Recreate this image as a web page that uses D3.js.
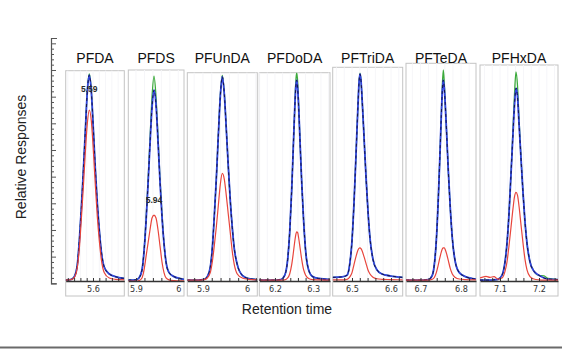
<!DOCTYPE html>
<html><head><meta charset="utf-8">
<script src="https://cdn.jsdelivr.net/npm/d3@7"></script>
<style>
html,body{margin:0;padding:0;background:#fff;}
svg{display:block;font-family:"Liberation Sans",Arial,sans-serif;}
</style></head>
<body><svg id="c" width="562" height="355"></svg>
<script>
// ---------- DATA ----------
const panelNames = ["PFDA","PFDS","PFUnDA","PFDoDA","PFTriDA","PFTeDA","PFHxDA"];
const xDomains = [[5.5133,5.6994],[5.8818,6.0135],[5.8644,6.0235],[6.1591,6.3437],[6.4505,6.6300],[6.6642,6.8370],[7.0487,7.2487]];
const tickValues = [[5.6],[5.9,6.0],[5.9,6.0],[6.2,6.3],[6.5,6.6],[6.7,6.8],[7.1,7.2]];
const tickLabels = [["5.6"],["5.9","6"],["5.9","6"],["6.2","6.3"],["6.5","6.6"],["6.7","6.8"],["7.1","7.2"]];
const peakLabels = [{p:0,text:"5.59",t:5.5883,v:71.7},{p:1,text:"5.94",t:5.9426,v:30.1}];

const times = [
 [5.5133,5.5312,5.5407,5.5502,5.5566,5.5629,5.5693,5.5756,5.5820,5.5883,5.5946,5.6010,5.6073,5.6137,5.6200,5.6264,5.6359,5.6518,5.6708,5.6994],
 [5.8818,5.9000,5.9071,5.9142,5.9190,5.9237,5.9284,5.9331,5.9379,5.9426,5.9473,5.9521,5.9568,5.9615,5.9662,5.9710,5.9781,5.9899,6.0041,6.0135],
 [5.8644,5.8871,5.9030,5.9098,5.9166,5.9212,5.9257,5.9303,5.9348,5.9394,5.9439,5.9485,5.9530,5.9575,5.9621,5.9666,5.9712,5.9780,5.9894,6.0030,6.0235],
 [6.1591,6.1914,6.2149,6.2254,6.2332,6.2384,6.2437,6.2476,6.2515,6.2541,6.2567,6.2593,6.2619,6.2658,6.2698,6.2750,6.2802,6.2880,6.2985,6.3141,6.3437],
 [6.4505,6.4744,6.4872,6.4949,6.5000,6.5051,6.5102,6.5154,6.5179,6.5205,6.5231,6.5256,6.5308,6.5359,6.5410,6.5461,6.5538,6.5641,6.5769,6.5974,6.6300],
 [6.6642,6.6946,6.7193,6.7291,6.7341,6.7390,6.7440,6.7477,6.7514,6.7538,6.7563,6.7588,6.7612,6.7649,6.7687,6.7736,6.7785,6.7859,6.7958,6.8106,6.8370],
 [7.0487,7.0641,7.0743,7.0846,7.0948,7.1051,7.1128,7.1179,7.1230,7.1282,7.1333,7.1372,7.1410,7.1449,7.1487,7.1538,7.1590,7.1641,7.1692,7.1769,7.1872,7.1999,7.2128,7.2231,7.2487]
];
const greenValues = [
 [1.2,1.5,2.5,7,16,28,42,57,72.5,78.5,72.5,58,43,30,20,12,6,3.5,2.5,1.8],
 [1.2,1.3,2,5,12,24,38,54,70,77.7,70,55,39,26,15,8,4,2.5,1.8,1.5],
 [1.2,1.2,1.5,2.5,6,13,25,39,55,70.5,78,71.5,58,44,31,21,13,7,3,1.8,1.4],
 [1.2,1.2,1.4,3,9,19,35,50,65,75,79,75.5,67,52,38,23,12,5,2.5,1.8,1.4],
 [2.2,2.4,3,8,16,30,48,67,75,78.8,76,70,55,40,27,17,9,5,3.5,2.8,2.2],
 [1.2,1.2,1.4,3,7,16,32,47,63,74,80,75,67,55,42,28,17,8,4,2.5,1.6],
 [1.2,1.2,1.2,1.3,1.5,3,8,15,26,41,58,71,79.3,74,62,47,34,23,15,8,4.5,3,2.8,1.8,1.4]
];
const blueValues = [
 [1.2,1.5,2.5,7,16,28,42,57,72,78.1,72,58,43,30,20,12,6,3.5,2.5,1.8],
 [1.2,1.3,2,5,12,23,37,52,66,72.5,67,53,38,25,15,8,4,2.5,1.8,1.5],
 [1.2,1.2,1.5,2.5,6,13,25,39,55,70,77.5,71,58,44,31,21,13,7,3,1.8,1.4],
 [1.2,1.2,1.4,3,9,19,35,50,65,73,76.2,73,66,52,38,23,12,5,2.5,1.8,1.4],
 [2.2,2.4,3,8,16,30,48,67,75,78.5,76,70,55,40,27,17,9,5,3.5,2.8,2.2],
 [1.2,1.2,1.4,3,7,16,32,47,63,72,76.2,73,67,55,42,28,17,8,4,2.5,1.6],
 [1.2,1.2,1.2,1.3,1.5,3,8,15,26,41,56,67,73.2,70,60,47,34,23,15,8,4.5,3,2,1.6,1.4]
];
const redValues = [
 [1.2,1.4,2.2,6,13,24,36,49,60,65,61,50,37,25,16,9,4,2,1.5,1.3],
 [0.8,0.8,1,2,5,10,15,20,24.5,25.6,24.5,20,14,8,4,2,1.3,1,0.9,0.9],
 [1.2,1.2,1.4,2,4,8,14,21,29,37,41.2,39,33,26,19,12,7,3.5,2,1.5,1.3],
 [1.2,1.2,1.2,1.3,2,3.5,7,11,15.5,18,19.3,19,17,13,9,5,3,1.8,1.4,1.3,1.2],
 [1.3,1.3,1.5,2.5,4,7,10,12.5,13.1,13.3,13,12.3,10,7.5,5,3.5,2.3,1.7,1.5,1.4,1.3],
 [1.2,1.2,1.2,1.5,2.2,4,7,9.5,11.8,12.9,13.3,13.3,12.6,10.8,8.5,5.5,3.5,2.2,1.6,1.4,1.3],
 [2,2.6,2.2,2.5,1.6,2,4.5,8,14,21,28,32.5,34.1,33,29,22,15,9,5,2.5,1.6,1.3,1.2,1.2,1.2]
];
const yAxisDomain = [0, 92];

// ---------- LAYOUT ----------
const panelLeft  = [65.7,128.3,187.3,259.3,332.7,406,480];
const panelRight = [124.3,184,257.3,330,402.7,476,558];
const panelTop   = [70.7,70,72.7,72.7,67.3,63.3,65];
const panelBottom = 296, baseY = 281;

const svg = d3.select("#c");
const y = d3.scaleLinear().domain(yAxisDomain).range([283.3, 38]);

// Left relative-response axis
const yAxis = d3.axisRight(y).tickValues(d3.range(0, 92, 2)).tickSize(3).tickSizeOuter(6).tickFormat("");
const ya = svg.append("g").attr("transform","translate(51,0)").call(yAxis);
ya.selectAll("path").attr("stroke","#555").attr("stroke-width",1.2);
ya.selectAll(".tick line").attr("stroke","#555").attr("stroke-width",1)
  .attr("x2", d => (d % 10 === 0 ? 5 : 3));

svg.append("text").attr("transform","translate(26,157) rotate(-90)")
  .attr("text-anchor","middle").attr("font-size",14).attr("fill","#222").text("Relative Responses");

const line = (x) => d3.line().x(d => x(d[0])).y(d => y(d[1])).curve(d3.curveMonotoneX);

panelNames.forEach((name, i) => {
  const x = d3.scaleLinear().domain(xDomains[i]).range([panelLeft[i], panelRight[i]]);
  const g = svg.append("g");
  const clipId = "clip" + i;
  svg.append("clipPath").attr("id", clipId).append("rect")
    .attr("x", panelLeft[i]).attr("y", panelTop[i])
    .attr("width", panelRight[i]-panelLeft[i]).attr("height", baseY - panelTop[i] + 1);
  // frame
  g.append("rect").attr("x", panelLeft[i]).attr("y", panelTop[i])
    .attr("width", panelRight[i]-panelLeft[i]).attr("height", panelBottom - panelTop[i])
    .attr("fill","#fff").attr("stroke","#c4c4c4").attr("stroke-width",1);
  // faint grid
  const minor = d3.range(Math.ceil(xDomains[i][0]/0.02)*0.02, xDomains[i][1], 0.02);
  g.append("g").selectAll("line").data(minor).join("line")
    .attr("x1", d => x(d)).attr("x2", d => x(d)).attr("y1", panelTop[i]).attr("y2", baseY)
    .attr("stroke","#f6f6f9").attr("stroke-width",1);
  // title
  svg.append("text").attr("x", (panelLeft[i]+panelRight[i])/2).attr("y", 63)
    .attr("text-anchor","middle").attr("font-size",14).attr("fill","#111").text(name);
  // traces
  const tg = g.append("g").attr("clip-path", `url(#${clipId})`);
  const gData = times[i].map((t, j) => [t, greenValues[i][j]]);
  const bData = times[i].map((t, j) => [t, blueValues[i][j]]);
  const rData = times[i].map((t, j) => [t, redValues[i][j]]);
  tg.append("path").attr("d", line(x)(gData)).attr("fill","none").attr("stroke","#3caa3c").attr("stroke-width",1.3);
  tg.append("path").attr("d", line(x)(bData)).attr("fill","none").attr("stroke","#3445e0").attr("stroke-width",1.8);
  tg.append("path").attr("d", line(x)(bData)).attr("fill","none").attr("stroke","#14144a").attr("stroke-width",1.0).attr("stroke-dasharray","3,3");
  tg.append("path").attr("d", line(x)(rData)).attr("fill","none").attr("stroke","#e8453c").attr("stroke-width",1.2);
  // baseline axis with minor ticks
  const ax = g.append("g").attr("transform", `translate(0,${baseY})`)
    .call(d3.axisBottom(x).tickValues(minor).tickSize(-3).tickSizeOuter(0).tickFormat(""));
  ax.select(".domain").attr("stroke","#333").attr("stroke-width",1.3);
  ax.selectAll(".tick line").attr("stroke","#333");
  const lab = g.append("g").attr("transform", `translate(0,${baseY})`)
    .call(d3.axisBottom(x).tickValues(tickValues[i]).tickSize(0).tickPadding(5)
      .tickFormat((d, j) => tickLabels[i][j]));
  lab.select(".domain").remove();
  lab.selectAll("text").attr("font-size",9).attr("fill","#333")
    .attr("font-family","'Liberation Sans Narrow','DejaVu Sans Condensed',sans-serif");
});

// peak annotations
peakLabels.forEach(pl => {
  const x = d3.scaleLinear().domain(xDomains[pl.p]).range([panelLeft[pl.p], panelRight[pl.p]]);
  svg.append("text").attr("x", x(pl.t)).attr("y", y(pl.v)).attr("text-anchor","middle")
    .attr("font-size",8.5).attr("font-weight","bold").attr("fill","#2a2a2a").text(pl.text);
});

svg.append("text").attr("x", 287).attr("y", 314).attr("text-anchor","middle")
  .attr("font-size",14).attr("fill","#222").text("Retention time");

svg.append("line").attr("x1",0).attr("x2",562).attr("y1",347.5).attr("y2",347.5)
  .attr("stroke","#6a6a6a").attr("stroke-width",1.8);
</script></body></html>
